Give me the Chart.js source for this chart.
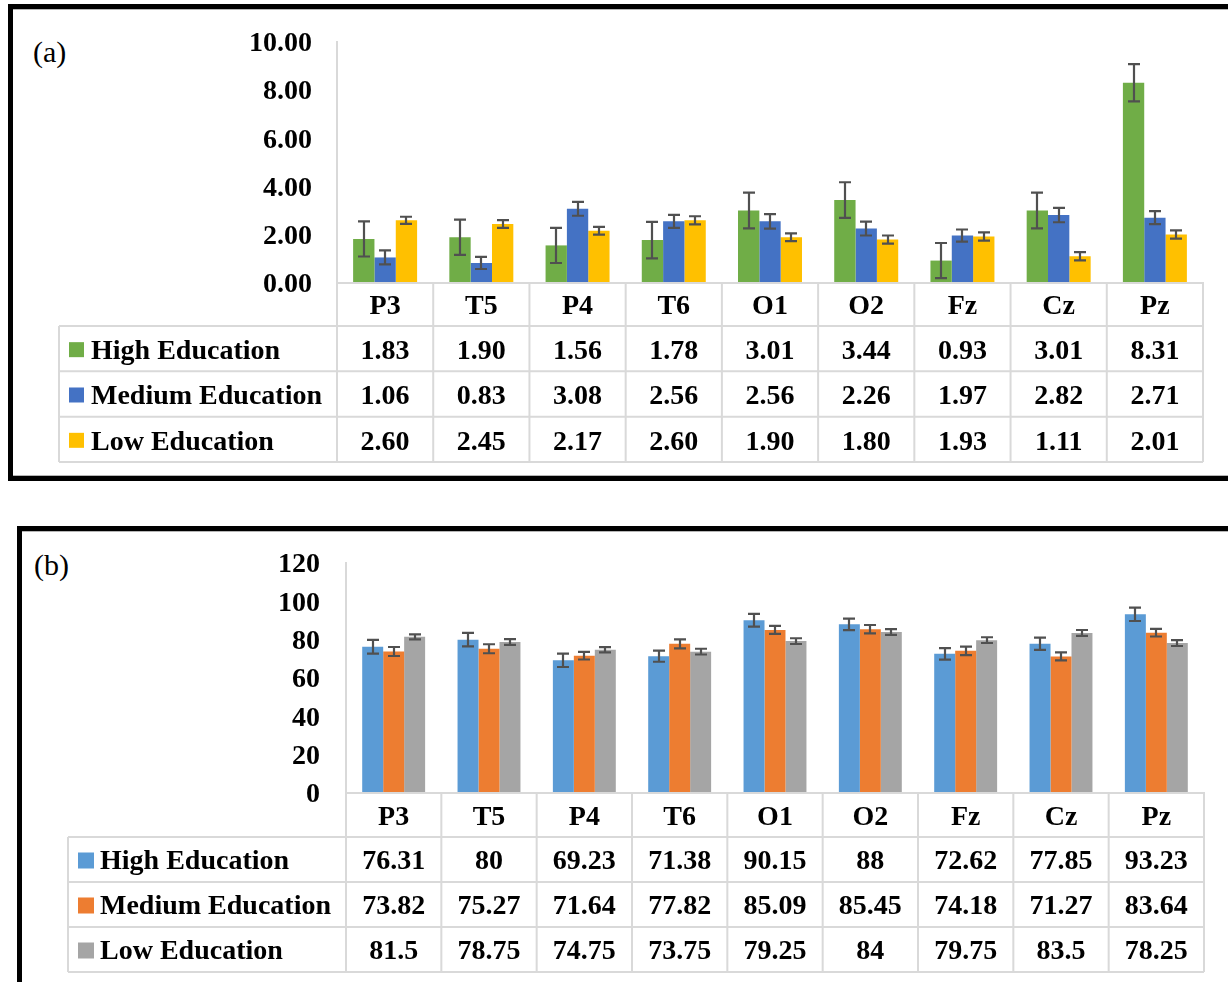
<!DOCTYPE html>
<html>
<head>
<meta charset="utf-8">
<script src="https://cdn.jsdelivr.net/npm/chart.js@4.4.0/dist/chart.umd.min.js"></script>
<style>
html,body{margin:0;padding:0;background:#fff;}
body{width:1228px;height:982px;overflow:hidden;position:relative;font-family:"Liberation Serif",serif;}
.frame{position:absolute;border:5px solid #000;box-sizing:border-box;box-shadow:inset 0 1px 0 #b5b5b5, inset 0 -1px 0 #b5b5b5;}
#fa{left:8px;top:4px;width:1260px;height:477px;}
#fb{left:17px;top:526px;width:1260px;height:500px;}
.wrap{position:absolute;left:0;width:1228px;}
#wa{top:0;height:490px;}
#wb{top:490px;height:492px;}
.tag{position:absolute;font-size:30px;line-height:30px;color:#000;font-family:"Liberation Serif",serif;}
canvas{display:block;}
</style>
</head>
<body>
<div class="frame" id="fa"></div>
<div class="frame" id="fb"></div>
<div class="tag" style="left:33px;top:37px;">(a)</div>
<div class="tag" style="left:34px;top:550px;">(b)</div>
<div class="wrap" id="wa"><canvas id="ca" width="1228" height="490"></canvas></div>
<div class="wrap" id="wb"><canvas id="cb" width="1228" height="492"></canvas></div>
<script>
// ---- shared categories / series names ----
const categories = ['P3','T5','P4','T6','O1','O2','Fz','Cz','Pz'];
const seriesNames = ['High Education','Medium Education','Low Education'];

// ---- panel (a) ----
const highA   = [1.83, 1.90, 1.56, 1.78, 3.01, 3.44, 0.93, 3.01, 8.31];
const mediumA = [1.06, 0.83, 3.08, 2.56, 2.56, 2.26, 1.97, 2.82, 2.71];
const lowA    = [2.60, 2.45, 2.17, 2.60, 1.90, 1.80, 1.93, 1.11, 2.01];
const highAErr   = [0.73, 0.73, 0.73, 0.76, 0.74, 0.74, 0.73, 0.74, 0.77];
const mediumAErr = [0.29, 0.25, 0.29, 0.27, 0.30, 0.29, 0.25, 0.30, 0.27];
const lowAErr    = [0.15, 0.16, 0.16, 0.17, 0.16, 0.17, 0.17, 0.17, 0.17];
const yTicksA = [0, 2, 4, 6, 8, 10];
const coloursA = ['#70ad47', '#4472c4', '#ffc000'];

// ---- panel (b) ----
const highB   = [76.31, 80, 69.23, 71.38, 90.15, 88, 72.62, 77.85, 93.23];
const mediumB = [73.82, 75.27, 71.64, 77.82, 85.09, 85.45, 74.18, 71.27, 83.64];
const lowB    = [81.5, 78.75, 74.75, 73.75, 79.25, 84, 79.75, 83.5, 78.25];
const highBErr   = [3.6, 3.5, 3.5, 2.9, 3.3, 3.0, 3.0, 3.2, 3.5];
const mediumBErr = [2.35, 2.35, 2.0, 2.35, 2.1, 2.2, 2.2, 2.1, 2.0];
const lowBErr    = [1.3, 1.5, 1.4, 1.5, 1.5, 1.55, 1.5, 1.55, 1.55];
const yTicksB = [0, 20, 40, 60, 80, 100, 120];
const coloursB = ['#5b9bd5', '#ed7d31', '#a5a5a5'];

const FONT = '"Liberation Serif", "Times New Roman", serif';
const GRID = '#d9d9d9';

function tablePlugin(cfg) {
  return {
    id: 'tableErr',
    afterDatasetsDraw(chart) {
      const ctx = chart.ctx, ys = chart.scales.y;
      ctx.save();
      ctx.strokeStyle = '#505050';
      ctx.lineWidth = 2.2;
      chart.data.datasets.forEach((ds, i) => {
        const meta = chart.getDatasetMeta(i);
        meta.data.forEach((bar, j) => {
          const v = ds.data[j], e = cfg.errors[i][j];
          const yt = ys.getPixelForValue(v + e), yb = ys.getPixelForValue(v - e);
          const x = Math.round(bar.x);
          ctx.beginPath();
          ctx.moveTo(x, yt); ctx.lineTo(x, yb);
          ctx.moveTo(x - 6, yt); ctx.lineTo(x + 6, yt);
          ctx.moveTo(x - 6, yb); ctx.lineTo(x + 6, yb);
          ctx.stroke();
        });
      });
      ctx.restore();
    },
    afterDraw(chart) {
      const ctx = chart.ctx, xs = chart.scales.x, area = chart.chartArea;
      const left = area.left, right = area.right;
      const n = categories.length;
      const w = (right - left) / n;
      const top = area.bottom, hdrBottom = xs.bottom;
      const rows = chart.data.datasets.length;
      const rh = cfg.rowH;
      const bottom = hdrBottom + rows * rh;
      ctx.save();
      ctx.strokeStyle = GRID;
      ctx.lineWidth = 2;
      ctx.beginPath();
      ctx.moveTo(left, top); ctx.lineTo(right, top);
      for (let r = 0; r <= rows; r++) {
        const yy = hdrBottom + r * rh;
        ctx.moveTo(cfg.tableLeft, yy); ctx.lineTo(right, yy);
      }
      for (let k = 0; k <= n; k++) {
        const xx = left + k * w;
        ctx.moveTo(xx, top); ctx.lineTo(xx, bottom);
      }
      ctx.moveTo(cfg.tableLeft, hdrBottom); ctx.lineTo(cfg.tableLeft, bottom);
      ctx.stroke();
      ctx.font = 'bold 28px ' + FONT;
      ctx.textBaseline = 'middle';
      chart.data.datasets.forEach((ds, i) => {
        const cy = hdrBottom + i * rh + rh / 2;
        ctx.fillStyle = ds.backgroundColor;
        ctx.fillRect(cfg.swatchX, cy - cfg.swatch / 2 + 1, cfg.swatch, cfg.swatch);
        ctx.fillStyle = '#000';
        ctx.textAlign = 'left';
        ctx.fillText(ds.label, cfg.textX, cy + cfg.textDy);
        ctx.textAlign = 'center';
        ds.data.forEach((v, j) => {
          ctx.fillText(cfg.fmt(v), xs.getPixelForValue(j), cy + cfg.textDy);
        });
      });
      ctx.restore();
    }
  };
}

function makeChart(id, cfg) {
  return new Chart(document.getElementById(id), {
    type: 'bar',
    data: {
      labels: categories,
      datasets: cfg.series.map((d, i) => ({
        label: seriesNames[i],
        data: d,
        backgroundColor: cfg.colours[i],
        borderWidth: 0,
        categoryPercentage: cfg.catPct,
        barPercentage: 1.0
      }))
    },
    options: {
      responsive: false,
      animation: false,
      devicePixelRatio: 1,
      layout: { padding: cfg.padding },
      plugins: { legend: { display: false }, tooltip: { enabled: false } },
      scales: {
        x: {
          grid: { display: false, drawTicks: false, tickLength: 0 },
          border: { display: true, color: GRID, width: 2 },
          ticks: { color: '#000', font: { family: FONT, size: 28, weight: 'bold' }, padding: cfg.xPad, maxRotation: 0, autoSkip: false },
          afterFit(s) { s.height = cfg.hdrH; }
        },
        y: {
          min: cfg.yTicks[0],
          max: cfg.yTicks[cfg.yTicks.length - 1],
          grid: { display: false, drawTicks: false, tickLength: 0 },
          border: { display: true, color: GRID, width: 2 },
          afterBuildTicks(s) { s.ticks = cfg.yTicks.map(v => ({ value: v })); },
          ticks: { color: '#000', font: { family: FONT, size: 28, weight: 'bold' }, padding: cfg.yPad, labelOffset: 2, callback: cfg.yFmt },
          afterFit(s) { s.width = cfg.yWidth; }
        }
      }
    },
    plugins: [tablePlugin(cfg)]
  });
}

makeChart('ca', {
  series: [highA, mediumA, lowA],
  errors: [highAErr, mediumAErr, lowAErr],
  colours: coloursA,
  yTicks: yTicksA,
  yFmt: v => Number(v).toFixed(2),
  fmt: v => v.toFixed(2),
  catPct: 0.665,
  padding: { left: 0, right: 25, top: 42, bottom: 164 },
  yWidth: 337, yPad: 25,
  hdrH: 43, xPad: 7,
  rowH: 45.33, textDy: 3,
  tableLeft: 59, swatchX: 69, swatch: 15, textX: 91
});

makeChart('cb', {
  series: [highB, mediumB, lowB],
  errors: [highBErr, mediumBErr, lowBErr],
  colours: coloursB,
  yTicks: yTicksB,
  yFmt: v => String(v),
  fmt: v => String(v),
  catPct: 0.66,
  padding: { left: 0, right: 24, top: 73, bottom: 145 },
  yWidth: 346, yPad: 26,
  hdrH: 44, xPad: 8,
  rowH: 45, textDy: 2,
  tableLeft: 68, swatchX: 78, swatch: 16, textX: 100
});
</script>
</body>
</html>
